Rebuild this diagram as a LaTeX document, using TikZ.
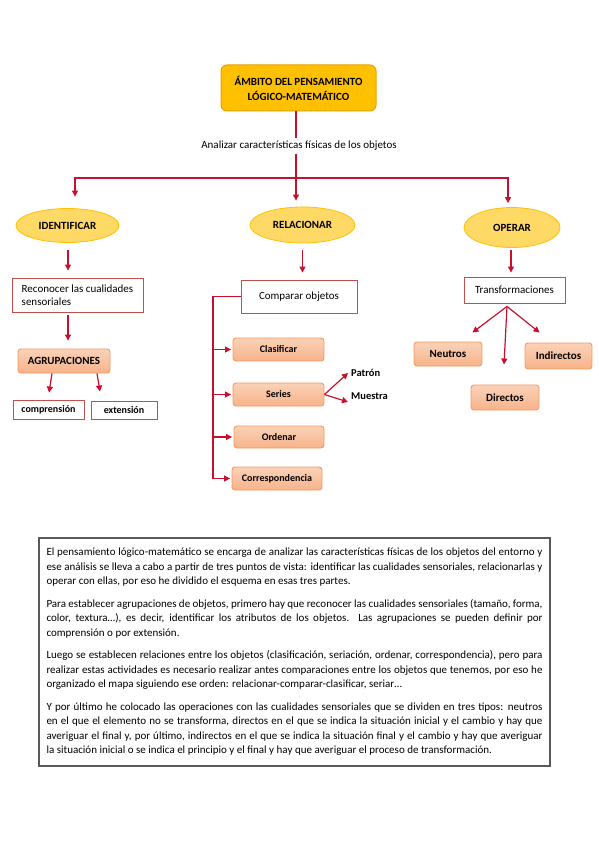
\documentclass[tikz,border=0pt]{standalone}
\usepackage{fontspec}
\setmainfont{Carlito}
\usetikzlibrary{shapes.geometric,arrows.meta}
\definecolor{redline}{HTML}{C8102E}
\definecolor{titlefill}{HTML}{FFC000}
\definecolor{titledraw}{HTML}{E8A200}
\definecolor{ellfill}{HTML}{FFD966}
\definecolor{elldraw}{HTML}{FFC000}
\definecolor{salfill}{HTML}{F7B38A}
\definecolor{saltop}{HTML}{FAD2B8}
\definecolor{saldraw}{HTML}{F39A62}
\definecolor{boxdraw}{HTML}{C0504D}
\definecolor{framedraw}{HTML}{595959}
\begin{document}
\begin{tikzpicture}[x=1pt,y=-1pt,
  every node/.style={inner sep=0pt},
  font=\fontsize{11}{13}\selectfont,
  redln/.style={draw=redline,line width=1.2pt,line join=miter},
  arr/.style={redln,-{Triangle[length=6pt,width=6pt]}},
  titlebox/.style={draw=titledraw,line width=1pt,fill=titlefill,rounded corners=6pt,align=center,font=\fontsize{11}{15}\selectfont\bfseries},
  ellnode/.style={ellipse,draw=elldraw,line width=0.8pt,fill=ellfill,font=\fontsize{11}{13}\selectfont\bfseries},
  rbox/.style={draw=boxdraw,line width=0.9pt,fill=white},
  salbox/.style={draw=saldraw,line width=0.9pt,top color=saltop,bottom color=salfill,rounded corners=3pt,font=\fontsize{10}{12}\selectfont\bfseries},
  salbig/.style={salbox,font=\fontsize{11}{13}\selectfont\bfseries},
  smallbold/.style={font=\fontsize{10}{12}\selectfont\bfseries},
  sidelbl/.style={anchor=west,font=\fontsize{10.5}{12}\selectfont\bfseries}
]
\useasboundingbox (0,0) rectangle (599,848);

% top
\node[titlebox,minimum width=155pt,minimum height=46pt] (title) at (298.5,88) {ÁMBITO DEL PENSAMIENTO\\LÓGICO-MATEMÁTICO};
\node[inner sep=3pt] (anal) at (299,146) {Analizar características físicas de los objetos};
\coordinate (bar) at (296,178);
\coordinate (barL) at (75,178);
\coordinate (barR) at (508,178);

\node[ellnode,minimum width=103pt,minimum height=34pt] (ident) at (67.5,225.5) {IDENTIFICAR};
\node[ellnode,minimum width=105pt,minimum height=36pt] (rel) at (302.5,225) {RELACIONAR};
\node[ellnode,minimum width=96pt,minimum height=40pt] (oper) at (512,227.5) {OPERAR};

\draw[redln] (title.south -| bar) -- (anal.north -| bar);
\draw[redln] (anal.south -| bar) -- (bar);
\draw[arr,shorten >=11.5pt] (bar) -| (barL |- ident.north);
\draw[arr,shorten >=6pt] (bar) -- (bar |- rel.north);
\draw[arr,shorten >=4pt] (bar) -| (barR |- oper.north);

% left branch
\node[rbox,minimum width=131pt,minimum height=34pt,align=left] (recon) at (77.5,295) {Reconocer las cualidades\\sensoriales};
\node[salbig,minimum width=92pt,minimum height=24pt] (agrup) at (64,361) {AGRUPACIONES};
\node[rbox,smallbold,minimum width=71pt,minimum height=19pt] (compr) at (48.5,409.5) {comprensión};
\node[rbox,smallbold,minimum width=66pt,minimum height=18pt] (ext) at (124,410) {extensión};

\draw[arr,shorten <=7pt,shorten >=7pt] ([xshift=0.5pt]ident.south) -- ([xshift=0.5pt]ident.south |- recon.north);
\draw[arr,shorten <=3pt,shorten >=8pt] ([xshift=-9.5pt]recon.south) -- ([xshift=-9.5pt]recon.south |- agrup.north);
\draw[arr] ([xshift=-12pt]agrup.south) -- ([xshift=0.5pt,yshift=7pt]compr.north);
\draw[arr] ([xshift=33pt]agrup.south) -- ([xshift=-24pt,yshift=9pt]ext.north);

% middle branch
\node[rbox,minimum width=116pt,minimum height=33pt] (compar) at (299,296.5) {Comparar objetos};
\node[salbox,minimum width=91pt,minimum height=23pt] (clas) at (278.5,349.5) {Clasificar};
\node[salbox,minimum width=91pt,minimum height=23pt] (ser) at (278.5,394.5) {Series};
\node[salbox,minimum width=90pt,minimum height=22pt] (ord) at (279,437) {Ordenar};
\node[salbox,minimum width=90pt,minimum height=23pt] (corr) at (277,478.5) {Correspondencia};
\node[sidelbl] (patron) at (351,373) {Patrón};
\node[sidelbl] (muestra) at (351,396) {Muestra};

\draw[arr,shorten <=7pt,shorten >=7pt] (rel.south) -- (rel.south |- compar.north);
\coordinate (brk) at (213,296.5);
\draw[redln] (compar.west) -- (brk) -- (brk |- corr.west);
\foreach \n in {clas,ser,ord,corr}{
  \draw[arr,shorten >=1.5pt] (brk |- \n.west) -- (\n.west);
}
\draw[arr] (ser.east) -- ([xshift=-3pt]patron.west);
\draw[arr] (ser.east) -- ([xshift=-3pt,yshift=-6pt]muestra.west);

% right branch
\node[rbox,minimum width=101pt,minimum height=26pt] (trans) at (514.5,290) {Transformaciones};
\node[salbig,minimum width=68pt,minimum height=24pt] (neut) at (448,354) {Neutros};
\node[salbig,minimum width=67pt,minimum height=26pt] (indir) at (558.5,356) {Indirectos};
\node[salbig,minimum width=68pt,minimum height=25pt] (direc) at (505,397.5) {Directos};

\draw[arr,shorten <=2pt,shorten >=4pt] ([xshift=-1pt]oper.south) -- ([xshift=-1pt]oper.south |- trans.north);
\coordinate (tsrc) at ([xshift=-7.5pt,yshift=-3pt]trans.south);
\draw[arr] (tsrc) -- ([xshift=-10pt,yshift=9pt]neut.north east);
\draw[arr] (tsrc) -- ([xshift=-1pt,yshift=20pt]direc.north);
\draw[arr] (tsrc) -- ([xshift=15pt,yshift=10pt]indir.north west);

% text frame
\node[draw=framedraw,line width=1.3pt,minimum height=228pt,inner xsep=7.5pt,text width=496pt,align=justify,font=\fontsize{11}{14.5}\selectfont] (txt) at (294.5,652) {%
\setlength{\parskip}{8pt}\setlength{\parindent}{0pt}\hyphenpenalty=10000 \emergencystretch=10pt
El pensamiento lógico-matemático se encarga de analizar las características físicas de los objetos del entorno y\linebreak
ese análisis se lleva a cabo a partir de tres puntos de vista: identificar las cualidades sensoriales, relacionarlas y\linebreak
operar con ellas, por eso he dividido el esquema en esas tres partes.\par
Para establecer agrupaciones de objetos, primero hay que reconocer las cualidades sensoriales (tamaño, forma,\linebreak
color, textura…), es decir, identificar los atributos de los objetos. Las agrupaciones se pueden definir por\linebreak
comprensión o por extensión.\par
Luego se establecen relaciones entre los objetos (clasificación, seriación, ordenar, correspondencia), pero para\linebreak
realizar estas actividades es necesario realizar antes comparaciones entre los objetos que tenemos, por eso he\linebreak
organizado el mapa siguiendo ese orden: relacionar-comparar-clasificar, seriar…\par
Y por último he colocado las operaciones con las cualidades sensoriales que se dividen en tres tipos: neutros\linebreak
en el que el elemento no se transforma, directos en el que se indica la situación inicial y el cambio y hay que\linebreak
averiguar el final y, por último, indirectos en el que se indica la situación final y el cambio y hay que averiguar\linebreak
la situación inicial o se indica el principio y el final y hay que averiguar el proceso de transformación.\par};
\end{tikzpicture}
\end{document}
